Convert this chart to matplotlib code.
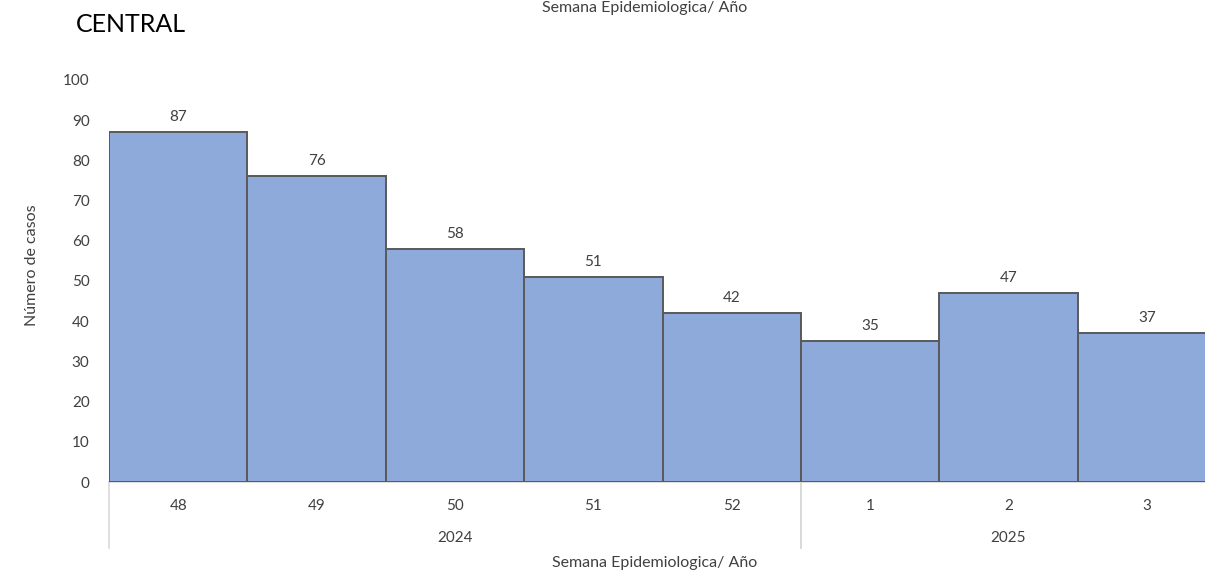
import matplotlib
matplotlib.use("Agg")
import matplotlib.pyplot as plt

weeks = ["48", "49", "50", "51", "52", "1", "2", "3"]
years = ["2024", "2024", "2024", "2024", "2024", "2025", "2025", "2025"]
cases = [87, 76, 58, 51, 42, 35, 47, 37]
y_ticks = [0, 10, 20, 30, 40, 50, 60, 70, 80, 90, 100]

plt.rcParams['font.family'] = ['Lato', 'DejaVu Sans']
txt = '#404040'

fig = plt.figure(figsize=(12.05, 5.71), dpi=100)
ax = fig.add_axes([109/1205, 1-482/571, (1216-109)/1205, (482-80)/571])

x = list(range(len(cases)))
bars = ax.bar(x, cases, width=1.0, color='#8EAADB', edgecolor='#595959', linewidth=1.4, zorder=3)
for xi, v in zip(x, cases):
    ax.text(xi, v + 2, str(v), ha='center', va='bottom', fontsize=11, color=txt)

ax.set_xlim(-0.5, len(cases) - 0.5)
ax.set_ylim(0, 100)
ax.set_yticks(y_ticks)
ax.tick_params(axis='y', length=0, labelsize=11, labelcolor=txt, pad=14)
ax.set_xticks(x)
ax.set_xticklabels(weeks)
ax.tick_params(axis='x', length=0, labelsize=11, labelcolor=txt, pad=12)
for s in ['top', 'right', 'left']:
    ax.spines[s].set_visible(False)
ax.spines['bottom'].set_color('#D9D9D9')
ax.spines['bottom'].set_linewidth(1.2)

# year groups
trans = ax.get_xaxis_transform()
groups = []
for i, yv in enumerate(years):
    if not groups or groups[-1][0] != yv:
        groups.append([yv, i, i])
    else:
        groups[-1][2] = i
ybot = -(548-482)/(482-80)
ylab = -(538-482)/(482-80)
for yv, a, b in groups:
    for edge in (a - 0.5, b + 0.5):
        ax.plot([edge, edge], [0, ybot], transform=trans, color='#D9D9D9', lw=1.2, clip_on=False)
    ax.text((a + b) / 2, ylab, yv, transform=trans, ha='center', va='center', fontsize=11, color=txt)

fig.text(655/1205, 1-563/571, "Semana Epidemiologica/ Año", ha='center', va='center', fontsize=11.5, color=txt)
fig.text(645/1205, 1-1/571, "Semana Epidemiologica/ Año", ha='center', va='top', fontsize=11.5, color=txt)
fig.text(32/1205, 1-265/571, "Número de casos", ha='center', va='center', rotation=90, fontsize=11.5, color=txt)
fig.text(76/1205, 1-24/571, "CENTRAL", ha='left', va='center', fontsize=18, color='black')

fig.savefig("out.png", dpi=100)
